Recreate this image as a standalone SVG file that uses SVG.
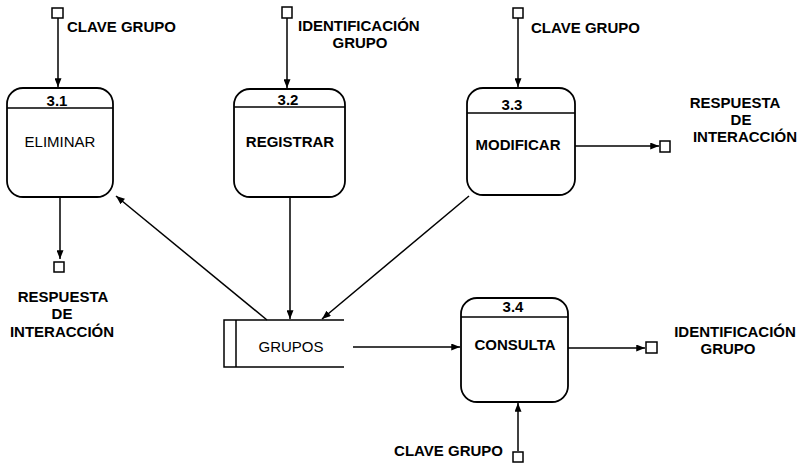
<svg xmlns="http://www.w3.org/2000/svg" width="803" height="464" viewBox="0 0 803 464">
<style>
.box{fill:#fff;stroke:#000;stroke-width:1.8}
.ln{fill:none;stroke:#000;stroke-width:1.5}
.sq{fill:#fff;stroke:#000;stroke-width:1.5}
text{font-family:"Liberation Sans",Arial,sans-serif;fill:#000}
.lb{font-size:15px;font-weight:bold}
.nm{font-size:15px;font-weight:bold;text-anchor:middle}
.nr{font-size:15px;text-anchor:middle}
.id{font-size:15px;font-weight:bold;text-anchor:middle}
</style>
<defs>
<marker id="ah" viewBox="0 0 10 8" refX="10" refY="4" markerWidth="9" markerHeight="7" markerUnits="userSpaceOnUse" orient="auto">
<path d="M0,0 L10,4 L0,8 Z" fill="#000"/>
</marker>
</defs>
<rect width="803" height="464" fill="#fff"/>
<g id="connectors">
<line class="ln" x1="58" y1="18" x2="58" y2="87" marker-end="url(#ah)"/>
<line class="ln" x1="60" y1="197" x2="60" y2="259" marker-end="url(#ah)"/>
<line class="ln" x1="287" y1="18" x2="287" y2="88" marker-end="url(#ah)"/>
<line class="ln" x1="290" y1="197" x2="290" y2="319" marker-end="url(#ah)"/>
<line class="ln" x1="518" y1="18" x2="518" y2="87" marker-end="url(#ah)"/>
<line class="ln" x1="575" y1="146" x2="659" y2="146" marker-end="url(#ah)"/>
<line class="ln" x1="267" y1="320" x2="116" y2="196" marker-end="url(#ah)"/>
<line class="ln" x1="469" y1="196" x2="322" y2="319" marker-end="url(#ah)"/>
<line class="ln" x1="353" y1="347" x2="460" y2="347" marker-end="url(#ah)"/>
<line class="ln" x1="568" y1="348" x2="645" y2="348" marker-end="url(#ah)"/>
<line class="ln" x1="518" y1="451" x2="518" y2="403" marker-end="url(#ah)"/>
</g>
<g id="ext-clave1">
<rect class="sq" x="52" y="8" width="11" height="10"/>
<text class="lb" x="67" y="32">CLAVE GRUPO</text>
</g>
<g id="ext-resp1">
<rect class="sq" x="54" y="262" width="10" height="10"/>
<text class="id" x="63" y="302">RESPUESTA</text>
<text class="id" x="62" y="319">DE</text>
<text class="id" x="62" y="337">INTERACCIÓN</text>
</g>
<g id="ext-ident1">
<rect class="sq" x="282" y="7" width="10" height="11"/>
<text class="lb" x="298" y="31">IDENTIFICACIÓN</text>
<text class="id" x="360" y="48">GRUPO</text>
</g>
<g id="ext-clave3">
<rect class="sq" x="513" y="8" width="10" height="10"/>
<text class="lb" x="531" y="33">CLAVE GRUPO</text>
</g>
<g id="ext-resp3">
<rect class="sq" x="660" y="141" width="10" height="11"/>
<text class="id" x="735" y="108">RESPUESTA</text>
<text class="id" x="741" y="125">DE</text>
<text class="id" x="745" y="142">INTERACCIÓN</text>
</g>
<g id="ext-ident4">
<rect class="sq" x="646" y="342" width="11" height="11"/>
<text class="id" x="735" y="337">IDENTIFICACIÓN</text>
<text class="id" x="728" y="354">GRUPO</text>
</g>
<g id="ext-clave4">
<rect class="sq" x="513" y="452" width="10" height="10"/>
<text class="lb" x="503" y="456" text-anchor="end">CLAVE GRUPO</text>
</g>
<g id="p31">
<rect class="box" x="7" y="88" width="106" height="109" rx="16"/>
<line class="ln" x1="7" y1="108" x2="113" y2="108"/>
<text class="nm" x="57" y="106">3.1</text>
<text class="nr" x="60" y="147">ELIMINAR</text>
</g>
<g id="p32">
<rect class="box" x="234" y="89" width="111" height="108" rx="16"/>
<line class="ln" x1="234" y1="107" x2="345" y2="107"/>
<text class="nm" x="288" y="105">3.2</text>
<text class="nm" x="290" y="147">REGISTRAR</text>
</g>
<g id="p33">
<rect class="box" x="467" y="88" width="108" height="107" rx="16"/>
<line class="ln" x1="467" y1="113" x2="575" y2="113"/>
<text class="nm" x="512" y="110">3.3</text>
<text class="nm" x="518" y="150">MODIFICAR</text>
</g>
<g id="p34">
<rect class="box" x="461" y="298" width="107" height="104" rx="16"/>
<line class="ln" x1="461" y1="317" x2="568" y2="317"/>
<text class="nm" x="513" y="312">3.4</text>
<text class="nm" x="515" y="350">CONSULTA</text>
</g>
<g id="store-grupos">
<path class="ln" d="M344,320 L224,320 L224,367 L344,367 M236,320 L236,367" stroke-width="1.8"/>
<text class="nr" x="291" y="352">GRUPOS</text>
</g>
</svg>
